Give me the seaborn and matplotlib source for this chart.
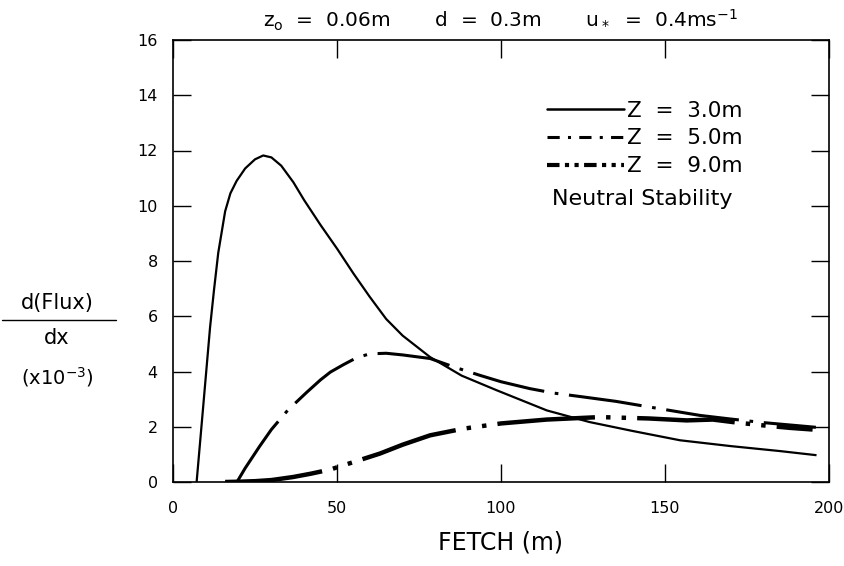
import matplotlib
matplotlib.use("Agg")
import matplotlib.pyplot as plt
from matplotlib.lines import Line2D
import pandas as pd
import seaborn as sns

# fetch (m) and d(Flux)/dx (x10^-3)
fetch_z3 = [7.2, 9.0, 11.3, 12.5, 13.8, 15.9, 17.5, 19.4, 22.0, 25.0, 27.5, 30.0,
            33.0, 36.7, 40.0, 45.0, 50.0, 55.0, 60.0, 65.0, 70.0, 78.4, 88.0,
            98.7, 114.0, 127.0, 140.0, 154.6, 170.0, 185.0, 196.2]
flux_z3 = [0.0, 2.45, 5.6, 6.95, 8.3, 9.8, 10.45, 10.9, 11.35, 11.68, 11.82, 11.75,
           11.45, 10.85, 10.2, 9.3, 8.45, 7.55, 6.7, 5.9, 5.3, 4.52, 3.85,
           3.32, 2.59, 2.17, 1.85, 1.51, 1.3, 1.12, 0.97]

fetch_z5 = [19.5, 22.0, 26.4, 30.0, 35.0, 40.8, 45.0, 48.0, 52.0, 56.0, 60.0, 65.0,
            70.0, 78.4, 86.0, 93.6, 100.0, 108.8, 116.0, 125.0, 135.0, 145.0,
            154.6, 160.7, 170.0, 180.0, 196.0]
flux_z5 = [0.0, 0.5, 1.29, 1.9, 2.6, 3.25, 3.7, 3.98, 4.25, 4.5, 4.64, 4.66,
           4.6, 4.47, 4.15, 3.86, 3.63, 3.38, 3.22, 3.08, 2.92, 2.72,
           2.53, 2.41, 2.28, 2.15, 1.98]

fetch_z9 = [15.9, 20.0, 25.0, 30.0, 36.6, 42.0, 47.9, 55.0, 63.1, 70.0, 78.4, 88.5,
            100.0, 113.9, 130.2, 145.0, 156.6, 164.6, 172.0, 179.9, 188.0, 195.0]
flux_z9 = [0.0, 0.01, 0.03, 0.07, 0.18, 0.3, 0.45, 0.72, 1.03, 1.35, 1.69, 1.93,
           2.12, 2.26, 2.35, 2.3, 2.23, 2.26, 2.15, 2.05, 1.96, 1.9]

labels = ["Z  =  3.0m", "Z  =  5.0m", "Z  =  9.0m"]

df = pd.concat([
    pd.DataFrame({"fetch": fetch_z3, "flux": flux_z3, "z": labels[0]}),
    pd.DataFrame({"fetch": fetch_z5, "flux": flux_z5, "z": labels[1]}),
    pd.DataFrame({"fetch": fetch_z9, "flux": flux_z9, "z": labels[2]}),
])

sns.set_style("ticks")
plt.rcParams["font.family"] = ["DejaVu Sans"]
plt.rcParams.update({"text.color": "black", "axes.labelcolor": "black",
                     "xtick.color": "black", "ytick.color": "black"})

fig = plt.figure(figsize=(8.45, 5.66), dpi=100)
ax = fig.add_axes([173 / 845, 1 - 482 / 566, 656 / 845, 442 / 566])

# line width (pt) and dash pattern (in units of line width) for each height
styles = {
    labels[0]: dict(lw=1.6, dashes=None),
    labels[1]: dict(lw=2.2, dashes=(24, 3.5, 1.2, 3.5)),
    labels[2]: dict(lw=3.2, dashes=(22, 2.5, 1, 2.5, 1, 2.5)),
}
for z, sub in df.groupby("z", sort=False):
    st = styles[z]
    sns.lineplot(data=sub, x="fetch", y="flux", ax=ax, color="black",
                 lw=st["lw"], sort=False, estimator=None)
    line = ax.lines[-1]
    line.set_solid_capstyle("butt")
    line.set_solid_joinstyle("round")
    if st["dashes"] is not None:
        line.set_dashes(st["dashes"])
        line.set_dash_capstyle("butt")

ax.set_xlim(0, 200)
ax.set_ylim(0, 16)
ax.set_xticks([0, 50, 100, 150, 200])
ax.set_yticks(range(0, 17, 2))
ax.tick_params(axis="both", direction="in", length=13, width=1.0, labelsize=11.5,
               top=True, right=True, color="black", labelcolor="black")
ax.tick_params(axis="y", pad=11)
ax.tick_params(axis="x", pad=14)
for s in ax.spines.values():
    s.set_linewidth(1.2)
    s.set_color("black")
ax.set_xlabel("FETCH (m)", fontsize=17, labelpad=10)
ax.set_ylabel("")

ax.set_title(r"z$_\mathrm{o}$  =  0.06m       d  =  0.3m       u$_*$  =  0.4ms$^{-1}$",
             fontsize=14.5, pad=9)

# legend with shorter dash samples
handles = [
    Line2D([], [], color="black", lw=1.8),
    Line2D([], [], color="black", lw=2.2, dashes=(4, 2.7, 1, 2.7), dash_capstyle="butt"),
    Line2D([], [], color="black", lw=3.0, dashes=(3, 1.3, 1, 1.3, 1, 1.3), dash_capstyle="butt"),
]
ax.legend(handles, labels, loc="upper left", bbox_to_anchor=(0.57, 0.863),
          frameon=False, fontsize=15.5, handlelength=3.6, handletextpad=0.1,
          labelspacing=0.36, borderaxespad=0, borderpad=0)
ax.text(0.578, 0.641, "Neutral Stability", transform=ax.transAxes,
        fontsize=16, va="center", ha="left")

# stacked y-axis label
fig.text(57 / 845, 1 - 303 / 566, "d(Flux)", ha="center", va="center", fontsize=15)
fig.add_artist(Line2D([2 / 845, 116 / 845], [1 - 320 / 566, 1 - 320 / 566],
                      color="black", lw=1.0))
fig.text(57 / 845, 1 - 338 / 566, "dx", ha="center", va="center", fontsize=15)
fig.text(57 / 845, 1 - 377 / 566, r"(x10$^{-3}$)", ha="center", va="center",
         fontsize=14)

fig.savefig("out.png", dpi=100)
